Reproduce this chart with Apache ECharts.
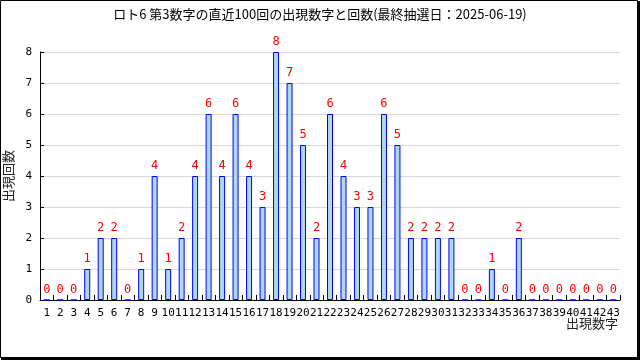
<!DOCTYPE html>
<html>
<head>
<meta charset="utf-8">
<script src="https://cdn.jsdelivr.net/npm/echarts@6/dist/echarts.min.js"></script>
<style>html,body{margin:0;padding:0;background:#fff}#c{width:640px;height:360px}</style>
</head>
<body>
<div id="c"></div>
<script>
var titleText = 'ロト6 第3数字の直近100回の出現数字と回数(最終抽選日：2025-06-19)';
var xName = '出現数字';
var yName = '出現回数';
var categories = ['1','2','3','4','5','6','7','8','9','10','11','12','13','14','15','16','17','18','19','20','21','22','23','24','25','26','27','28','29','30','31','32','33','34','35','36','37','38','39','40','41','42','43'];
var counts = [0,0,0,1,2,2,0,1,4,1,2,4,6,4,6,4,3,8,7,5,2,6,4,3,3,6,5,2,2,2,2,0,0,1,0,2,0,0,0,0,0,0,0];
var yTicks = [0,1,2,3,4,5,6,7,8];

var chart = echarts.init(document.getElementById('c'));
var mono = 'DejaVu Sans Mono';
var cjk = 'Noto Sans CJK JP';
chart.setOption({
  animation: false,
  backgroundColor: '#fff',
  title: {
    text: titleText, left: 'center', top: 3,
    textStyle: {fontFamily: cjk, fontSize: 13, fontWeight: 'normal', color: '#000'}
  },
  grid: {left: 40, right: 20, top: 52, bottom: 60, containLabel: false, outerBoundsMode: 'none'},
  xAxis: {
    type: 'category', data: categories,
    axisLine: {lineStyle: {color: '#000', width: 1}},
    axisTick: {show: true, inside: true, length: 5, alignWithLabel: false, lineStyle: {color: '#000'}},
    axisLabel: {interval: 0, margin: 8, fontFamily: mono, fontSize: 11, color: '#000', hideOverlap: false},
    splitLine: {show: false}
  },
  yAxis: {
    type: 'value', min: yTicks[0], max: yTicks[yTicks.length - 1], interval: 1,
    name: yName, nameLocation: 'middle', nameGap: 21, nameRotate: 90,
    nameTextStyle: {fontFamily: cjk, fontSize: 13, color: '#222'},
    axisLine: {show: true, lineStyle: {color: '#000', width: 1}},
    axisTick: {show: true, inside: true, length: 4, lineStyle: {color: '#000'}},
    axisLabel: {margin: 8, fontFamily: mono, fontSize: 11, color: '#000'},
    splitLine: {show: true, lineStyle: {color: '#d8d8d8', width: 1}}
  },
  series: [{
    type: 'bar', data: counts, barWidth: 6,
    itemStyle: {color: '#add8e6', borderColor: '#0000ff', borderWidth: 1},
    label: {show: true, position: 'top', distance: 4, fontFamily: mono, fontSize: 12, color: '#ff0000'}
  }],
  graphic: [
    {type: 'text', right: 22, top: 317, style: {text: xName, font: '13px "Noto Sans CJK JP"', fill: '#222'}, silent: true},
    {type: 'rect', shape: {x: 0.5, y: 0.5, width: 637, height: 357}, style: {fill: null, stroke: '#000', lineWidth: 1}, silent: true},
    {type: 'rect', shape: {x: 637, y: 1, width: 3, height: 359}, style: {fill: '#000'}, silent: true},
    {type: 'rect', shape: {x: 1, y: 358, width: 639, height: 2}, style: {fill: '#000'}, silent: true}
  ]
});
</script>
</body>
</html>
